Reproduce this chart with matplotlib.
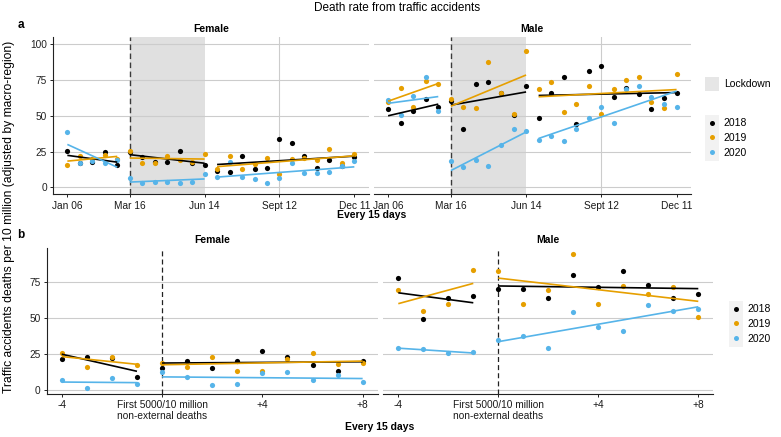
import numpy as np
import matplotlib
matplotlib.use("Agg")
import matplotlib.pyplot as plt
from matplotlib.patches import Rectangle
from matplotlib.lines import Line2D

plt.rcParams['font.family'] = ['Liberation Sans', 'DejaVu Sans']

years = ["2018", "2019", "2020"]
colors = ["#000000", "#E69F00", "#56B4E9"]

# panel a: every 15 days, period 1 = Jan 06
periods = np.arange(1, 25)
period_ticks = [1, 6, 12, 18, 24]
period_labels = ["Jan 06", "Mar 16", "Jun 14", "Sept 12", "Dec 11"]
segments_a = [(1, 5), (6, 12), (13, 24)]

female_2018 = [25.4, 16.8, 17.5, 24.5, 15.6, 24.5, 21.4, 17.5, 17.5, 25.4, 16.8, 15.6,
               11.7, 11.0, 21.9, 12.6, 13.3, 33.8, 30.8, 21.9, 13.8, 19.1, 15.0, 21.4]
female_2019 = [15.6, 22.1, 20.0, 22.6, 19.5, 25.4, 16.8, 16.8, 22.1, 19.0, 17.5, 23.1,
               12.6, 21.9, 12.6, 16.0, 20.3, 9.1, 20.0, 20.3, 19.1, 26.6, 17.2, 23.1]
female_2020 = [38.5, 17.3, 18.6, 16.8, 18.8, 6.3, 2.8, 4.0, 4.0, 2.8, 4.0, 9.3,
               7.0, 17.5, 7.0, 6.1, 2.8, 6.3, 16.8, 10.3, 10.3, 11.0, 14.9, 18.6]
male_2018 = [54.5, 44.7, 53.3, 61.7, 56.2, 60.4, 41.0, 72.5, 73.4, 66.2, 50.3, 70.6,
             48.7, 65.7, 77.1, 44.0, 81.3, 85.0, 62.9, 69.7, 65.5, 54.5, 62.7, 65.7]
male_2019 = [59.3, 69.7, 56.2, 74.3, 72.5, 61.7, 56.2, 55.2, 87.6, 65.7, 51.5, 95.3,
             68.7, 73.4, 52.4, 58.0, 70.6, 51.3, 68.7, 75.3, 77.1, 59.9, 55.2, 79.2]
male_2020 = [60.8, 50.3, 63.9, 77.1, 53.3, 18.4, 14.2, 19.1, 15.1, 29.3, 41.0, 39.1,
             33.3, 36.1, 32.4, 40.7, 48.7, 56.2, 44.7, 68.5, 70.6, 63.1, 58.0, 56.2]

# panel b: periods around the first 5000/10 million non-external deaths
rel = np.arange(-4, 9)
rel_ticks = [-4, 0, 4, 8]
rel_labels = ["-4", "First 5000/10 million\nnon-external deaths", "+4", "+8"]
segments_b = [(-4, -1), (0, 8)]

bf_2018 = [21.8, 23.4, 22.2, 9.0, 15.4, 20.4, 15.5, 20.4, 27.5, 23.4, 17.4, 13.7, 20.4]
bf_2019 = [25.7, 16.4, 23.4, 17.4, 19.2, 16.4, 22.9, 13.7, 13.7, 21.8, 25.7, 18.5, 19.0]
bf_2020 = [7.2, 1.9, 8.3, 4.6, 12.9, 9.0, 3.7, 4.6, 12.0, 12.5, 7.2, 10.9, 5.6]
bm_2018 = [78.0, 49.5, 63.9, 65.5, 70.6, 70.6, 63.9, 80.1, 71.5, 82.9, 73.4, 63.9, 66.7]
bm_2019 = [69.7, 55.3, 60.0, 83.8, 82.9, 60.0, 69.4, 94.4, 60.0, 72.7, 66.9, 71.5, 50.7]
bm_2020 = [29.4, 28.5, 25.7, 26.6, 35.2, 38.0, 29.6, 54.4, 44.0, 41.0, 59.0, 55.3, 56.3]

W, H = 781, 437
fig = plt.figure(figsize=(W / 100, H / 100), dpi=100)


def box(l, t, r, b):
    return [l / W, 1 - b / H, (r - l) / W, (b - t) / H]


def panel(ax, x, series, segments, xlim, ylim, yticks, left):
    x = np.asarray(x)
    ax.set_xlim(*xlim)
    ax.set_ylim(*ylim)
    for yv in yticks:
        ax.axhline(yv, color="#cccccc", lw=0.8, zorder=1)
    for vals, c in zip(series, colors):
        vals = np.asarray(vals)
        ax.scatter(x, vals, s=14, color=c, linewidths=0, zorder=3)
        # linear fit per segment, like geom_smooth(method = "lm")
        for a, b in segments:
            m = (x >= a) & (x <= b)
            k, c0 = np.polyfit(x[m], vals[m], 1)
            xs = np.array([a, b])
            ax.plot(xs, k * xs + c0, color=c, lw=1.2, zorder=4, solid_capstyle="butt")
    for s in ["top", "right"]:
        ax.spines[s].set_visible(False)
    ax.spines["bottom"].set_color("#222222")
    ax.spines["left"].set_color("#222222")
    ax.spines["left"].set_visible(left)
    ax.set_yticks(yticks)
    ax.tick_params(axis="both", labelsize=7.3, length=2.5, width=0.7,
                   colors="#222222", pad=2)
    ax.tick_params(axis="x", labelcolor="#1a1a1a")
    if not left:
        ax.tick_params(axis="y", left=False, labelleft=False)


ylim_a = (-4.9, 105.3)
ylim_b = (-2.6, 98.6)
xlim_a = (-0.15, 25.15)
xlim_b = (-4.6, 8.6)

ax1 = fig.add_axes(box(53, 36.7, 368.7, 194.3))
ax2 = fig.add_axes(box(373.7, 36.7, 691, 194.3))
ax3 = fig.add_axes(box(46.7, 248.3, 377.7, 394))
ax4 = fig.add_axes(box(383.3, 248.3, 713.3, 394))

panel(ax1, periods, [female_2018, female_2019, female_2020], segments_a,
      xlim_a, ylim_a, [0, 25, 50, 75, 100], True)
panel(ax2, periods, [male_2018, male_2019, male_2020], segments_a,
      xlim_a, ylim_a, [0, 25, 50, 75, 100], False)
panel(ax3, rel, [bf_2018, bf_2019, bf_2020], segments_b,
      xlim_b, ylim_b, [0, 25, 50, 75], True)
panel(ax4, rel, [bm_2018, bm_2019, bm_2020], segments_b,
      xlim_b, ylim_b, [0, 25, 50, 75], False)

for ax in (ax1, ax2):
    ax.axvspan(6, 12, color="#e0e0e0", lw=0, zorder=0.5)
    ax.axvline(18, color="#cccccc", lw=0.8, zorder=0.6)
    ax.axvline(6, color="#3a3a3a", lw=1.0, ls=(0, (4, 2.5)), zorder=2)
    ax.set_xticks(period_ticks)
    ax.set_xticklabels(period_labels)

for ax in (ax3, ax4):
    ax.axvline(0, color="#222222", lw=0.9, ls=(0, (4, 2.5)), zorder=2)
    ax.set_xticks(rel_ticks)
    ax.set_xticklabels(rel_labels, linespacing=1.1)


def ftext(x, y, s, **kw):
    fig.text(x / W, 1 - y / H, s, **kw)


ftext(397, 8, "Death rate from traffic accidents", ha="center", va="center", fontsize=8.5)
ftext(20.5, 25, "a", ha="center", va="center", fontsize=8.5, fontweight="bold")
ftext(20.5, 235, "b", ha="center", va="center", fontsize=8.5, fontweight="bold")
ftext(211, 29, "Female", ha="center", va="center", fontsize=7.5, fontweight="bold")
ftext(532, 29, "Male", ha="center", va="center", fontsize=7.5, fontweight="bold")
ftext(212, 240, "Female", ha="center", va="center", fontsize=7.5, fontweight="bold")
ftext(548, 240, "Male", ha="center", va="center", fontsize=7.5, fontweight="bold")
ftext(372, 215.5, "Every 15 days", ha="center", va="center", fontsize=7.5, fontweight="bold")
ftext(380, 426.5, "Every 15 days", ha="center", va="center", fontsize=7.5, fontweight="bold")
ftext(9, 217, "Traffic accidents deaths per 10 million (adjusted by macro-region)",
      ha="center", va="center", rotation=90, fontsize=8.7)

# legends
fig.patches.append(Rectangle((705 / W, 1 - 91 / H), 14 / W, 14 / H,
                             transform=fig.transFigure, color="#e6e6e6", lw=0))
ftext(724, 84, "Lockdown", ha="left", va="center", fontsize=7.5)
fig.patches.append(Rectangle((705 / W, 1 - 161 / H), 14 / W, 46 / H,
                             transform=fig.transFigure, color="#f2f2f2", lw=0))
fig.patches.append(Rectangle((729 / W, 1 - 347 / H), 14 / W, 46 / H,
                             transform=fig.transFigure, color="#f2f2f2", lw=0))

handles = [Line2D([], [], ls="none", marker="o", ms=3.6, mec="none", mfc=c) for c in colors]
for (bx, by) in [(705, 138), (729, 324)]:
    fig.legend(handles, years, loc="center left",
               bbox_to_anchor=(bx / W, 1 - by / H), frameon=False,
               fontsize=7.5, handlelength=1.4, handletextpad=0.35,
               labelspacing=0.45, borderpad=0, borderaxespad=0)

fig.savefig("out.png", dpi=100)
